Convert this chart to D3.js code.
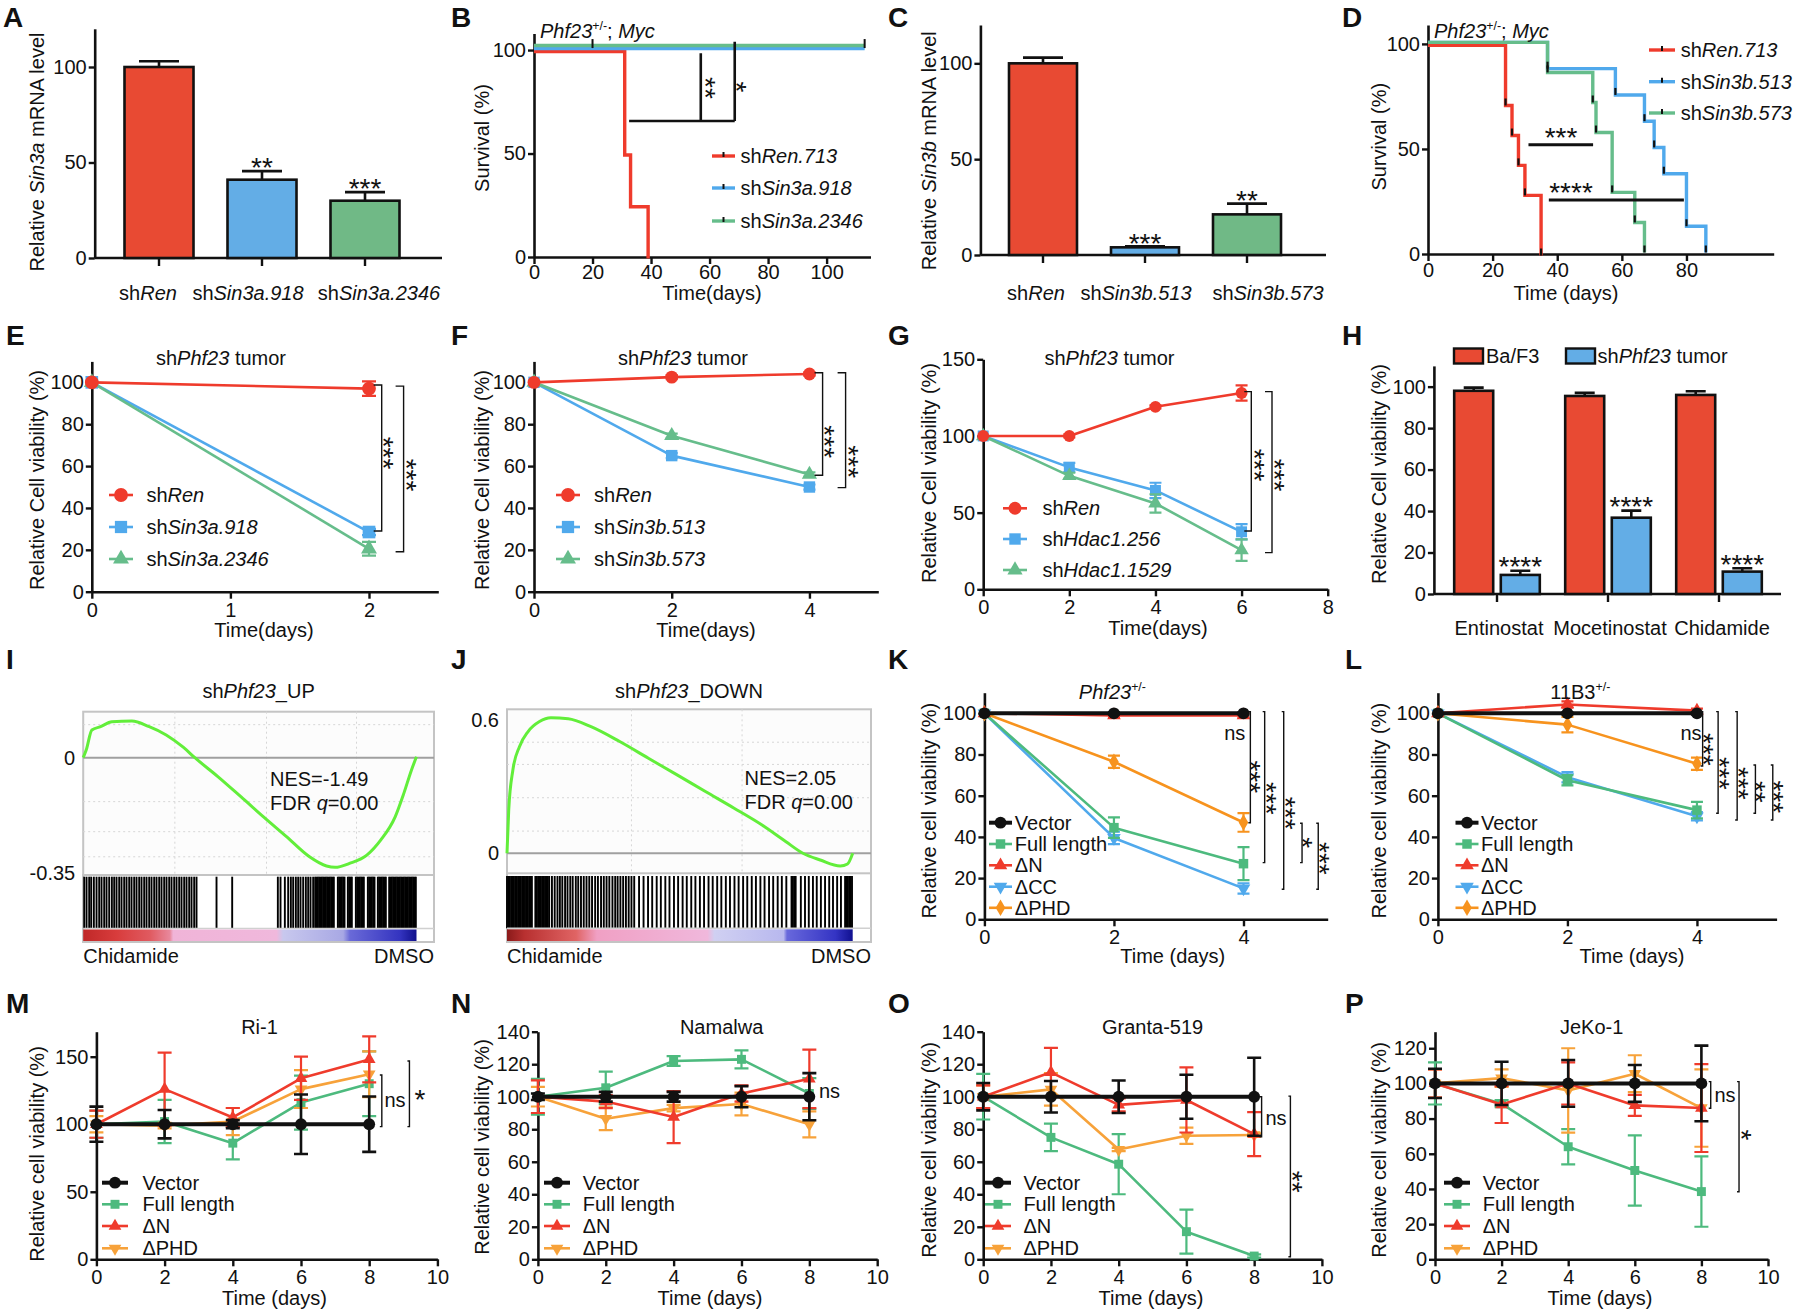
<!DOCTYPE html>
<html><head><meta charset="utf-8">
<script src="https://cdn.jsdelivr.net/npm/d3@7/dist/d3.min.js"></script>
<style>
html,body{margin:0;padding:0;background:#fff;overflow:hidden}
svg text{font-family:"Liberation Sans",Arial,Helvetica,sans-serif}
</style></head><body><script>
// ======================= DATA =======================
// A
const A_cats=['shRen','shSin3a.918','shSin3a.2346'];
const A_ticklabels=['sh<i>Ren</i>','sh<i>Sin3a.918</i>','sh<i>Sin3a.2346</i>'];
const A_values=[100,41,30];
const A_errors=[3,4.5,4.5];
const A_sig=['','**','***'];
const A_yticks=[0,50,100];
// B
const B_names=['sh<i>Ren.713</i>','sh<i>Sin3a.918</i>','sh<i>Sin3a.2346</i>'];
const B_ren_time=[0,31,33,39];
const B_ren_surv=[100,50,25,0];
const B_918_time=[0,113];
const B_918_surv=[100,100];
const B_2346_time=[0,113];
const B_2346_surv=[100,100];
const B_2346_censored=[20,113];
const B_sig=['**','*'];
const B_xticks=[0,20,40,60,80,100];
const B_yticks=[0,50,100];
// C
const C_cats=['shRen','shSin3b.513','shSin3b.573'];
const C_ticklabels=['sh<i>Ren</i>','sh<i>Sin3b.513</i>','sh<i>Sin3b.573</i>'];
const C_values=[100,4,21.2];
const C_errors=[3,0.5,5.6];
const C_sig=['','***','**'];
const C_yticks=[0,50,100];
// D
const D_names=['sh<i>Ren.713</i>','sh<i>Sin3b.513</i>','sh<i>Sin3b.573</i>'];
const D_ren_time=[0,24,26,28,30,35];
const D_ren_surv=[100,71.4,57.1,42.9,28.6,0];
const D_513_time=[0,37,58,67,70,73,80,86];
const D_513_surv=[100,87.5,75,62.5,50,37.5,12.5,0];
const D_573_time=[0,37,51,52,57,64,67];
const D_573_surv=[100,85.7,71.4,57.1,28.6,14.3,0];
const D_sig=['***','****'];
const D_xticks=[0,20,40,60,80];
const D_yticks=[0,50,100];
// E
const E_days=[0,2];
const E_names=['sh<i>Ren</i>','sh<i>Sin3a.918</i>','sh<i>Sin3a.2346</i>'];
const E_shRen=[100,97], E_shRen_err=[0,3.5];
const E_918=[100,28.5], E_918_err=[0,1.5];
const E_2346=[100,20.5], E_2346_err=[0,3.3];
const E_sig=['***','***'];
const E_xticks=[0,1,2];
const CV_yticks=[0,20,40,60,80,100];
// F
const F_days=[0,2,4];
const F_names=['sh<i>Ren</i>','sh<i>Sin3b.513</i>','sh<i>Sin3b.573</i>'];
const F_shRen=[100,102.5,104], F_shRen_err=[0,1,0.8];
const F_513=[100,65,50], F_513_err=[0,1.2,1.2];
const F_573=[100,74.5,56], F_573_err=[0,1,1];
const F_sig=['***','***'];
const F_xticks=[0,2,4];
// G
const G_days=[0,2,4,6];
const G_names=['sh<i>Ren</i>','sh<i>Hdac1.256</i>','sh<i>Hdac1.1529</i>'];
const G_shRen=[100,100,119,128], G_shRen_err=[0,1,1,5];
const G_256=[100,79.5,64.5,37.5], G_256_err=[0,3,5,5];
const G_1529=[100,74,56,25.5], G_1529_err=[0,2,6,7];
const G_sig=['***','***'];
const G_xticks=[0,2,4,6,8];
const G_yticks=[0,50,100,150];
// H
const H_drugs=['Entinostat','Mocetinostat','Chidamide'];
const H_groups=['Ba/F3','sh<i>Phf23</i> tumor'];
const H_baf3=[98,95.5,96], H_baf3_err=[1.5,1.5,1.8];
const H_tumor=[9.2,36.8,10.8], H_tumor_err=[2,3.4,1.6];
const H_sig=['****','****','****'];
const H_yticks=[0,20,40,60,80,100];
// I  (GSEA shPhf23_UP)
const I_rank=[0,0.9,2.6,5.2,8.6,14.6,19.8,24.9,30.1,33.5,40.4,47.3,54.1,61.0,67.9,73.0,75.6,79.9,85.1,89.3,93.6,96.2,98.5,100];
const I_es=[0,0.023,0.084,0.094,0.109,0.111,0.094,0.069,0.031,0,-0.057,-0.118,-0.179,-0.239,-0.300,-0.328,-0.332,-0.320,-0.295,-0.249,-0.179,-0.108,-0.037,0.003];
const I_hits=[0.3,1,1.8,2.4,3.2,4,4.8,5.5,6.3,7,7.8,8.6,9.3,10,10.8,11.5,12.3,13,13.8,14.5,15.3,16,16.8,17.5,18.3,19,19.8,20.5,21.3,22,22.8,23.5,24.3,25,25.8,26.5,27.3,28,28.8,29.5,30.3,31,31.8,32.5,33.3,34,
  40,44.7,58.4,59.2,60.5,61.5,62.3,63,63.8,64.5,65.2,66,66.8,67.5,68.2,69,69.6,
  70,70.4,70.8,71.2,71.6,72,72.4,72.8,73.2,73.6,74,74.4,74.8,75.2,76.4,76.8,77.2,77.6,78,78.4,79.4,79.8,80.2,80.6,81.8,82.2,82.6,83,83.4,83.8,84.2,85.4,85.8,86.2,86.6,87,87.4,88.4,88.8,89.2,89.6,90,90.4,90.8,91.8,92.2,92.6,93,93.4,93.8,94.2,94.6,95,95.4,95.8,96.2,96.6,97,97.4,97.8,98.2,98.6,99,99.4,99.8];
const I_ticks=[0,-0.35];
const I_stats=['NES=-1.49','FDR <i>q</i>=0.00'];
// J  (GSEA shPhf23_DOWN)
const J_rank=[0,0.5,1.7,3.6,6.1,9.4,12.7,17.7,24.3,32.6,40.9,49.2,57.4,65.7,74.0,80.6,85.6,90.6,96.4,98.5,100];
const J_es=[0,0.195,0.375,0.48,0.548,0.593,0.61,0.606,0.57,0.503,0.428,0.353,0.278,0.203,0.125,0.053,0,-0.03,-0.057,-0.048,0];
const J_hits=[0,0.4,0.8,1.2,1.6,2,2.4,2.8,3.2,3.6,4,4.4,4.8,5.2,5.6,6,6.4,6.8,7.2,8.2,8.6,9,9.4,9.8,10.2,10.6,11,11.4,11.8,12.2,
  13,13.8,14.6,15.3,16,16.8,17.5,18.3,19,19.9,20.6,21.4,22.2,23,23.8,24.6,25.5,26.3,27.2,28,28.8,29.6,30.5,31.3,32,32.8,33.6,34.4,35.2,36,36.8,
  38.2,39.5,40.8,42,43.3,44.5,45.8,47,48.3,49.5,50.8,52,53.3,54.5,55.8,57,58.3,59.5,60.8,62,63.3,64.5,65.8,67,68.3,69.5,70.8,72,73.3,74.5,75.8,77,78.3,79.5,80.8,82.3,82.7,83.1,83.5,85,86.2,87.3,88.5,89.6,90.8,92,93.2,94.3,95.5,96.6,97.8,98.2,98.6,99,99.4,99.8];
const J_ticks=[0.6,0];
const J_stats=['NES=2.05','FDR <i>q</i>=0.00'];
// K
const KL_names=['Vector','Full length','ΔN','ΔCC','ΔPHD'];
const K_days=[0,2,4];
const K_vector=[100,100,100], K_vector_err=[0,0.6,0.6];
const K_full=[100,44.5,27], K_full_err=[0,5,8];
const K_dN=[100,99,99], K_dN_err=[0,1,1];
const K_dCC=[100,39.5,15], K_dCC_err=[0,3,2.5];
const K_dPHD=[100,76.5,47], K_dPHD_err=[0,3,4.5];
const K_sig=['ns','***','***','***','*','***'];
const KL_xticks=[0,2,4];
// L
const L_days=[0,2,4];
const L_vector=[100,100,100], L_vector_err=[0,0.6,0.6];
const L_full=[100,67.5,53], L_full_err=[0,2.5,4];
const L_dN=[100,104.3,101.3], L_dN_err=[0,1.5,1];
const L_dCC=[100,69,50], L_dCC_err=[0,2.5,2];
const L_dPHD=[100,94.5,75.5], L_dPHD_err=[0,3.8,3];
const L_sig=['ns','***','***','***','**','***'];
// M-P
const MP_names=['Vector','Full length','ΔN','ΔPHD'];
const MP_days=[0,2,4,6,8];
const MP_xticks=[0,2,4,6,8,10];
const M_vector=[100,100,100,100,100], M_vector_err=[13,10.5,3,22,20.5];
const M_full=[100,102,86,116,130], M_full_err=[10,16,12,20,24];
const M_dN=[100,126,105,134,148], M_dN_err=[10,27,7,16,17];
const M_dPHD=[100,99,102,126,137], M_dPHD_err=[6,2,10,14,17];
const M_sig=['ns','*'];
const M_yticks=[0,50,100,150];
const N_vector=[100,100,100,100,100], N_vector_err=[2,3,3,6.5,14.5];
const N_full=[100,105.5,122,123,102], N_full_err=[11,10,3,5.5,9.5];
const N_dN=[100,97,87.5,102,111], N_dN_err=[10,4,16,5,18];
const N_dPHD=[100,86.5,93,95.5,83], N_dPHD_err=[6,7,2,7,8];
const N_sig=['ns'];
const NO_yticks=[0,20,40,60,80,100,120,140];
const O_vector=[100,100,100,100,100], O_vector_err=[8.4,9.7,10,13.5,24];
const O_full=[100,75,58.5,17,2], O_full_err=[14,8.5,18.5,13.5,1];
const O_dN=[100,115,95,98,77], O_dN_err=[7,15,4,20,13.5];
const O_dPHD=[100,104.5,67.5,76,76.5], O_dPHD_err=[7,10,1,5,1];
const O_sig=['ns','**'];
const P_vector=[100,100,100,100,100], P_vector_err=[8.3,12.3,13.3,10.5,21.5];
const P_full=[100,88.5,64,50.5,38.5], P_full_err=[12,2,10,20,20];
const P_dN=[100,88,100,87.5,86], P_dN_err=[8,10.5,12,6,25];
const P_dPHD=[100,103,96,105.5,86], P_dPHD_err=[8,5,24,10.5,22];
const P_sig=['ns','*'];
const P_yticks=[0,20,40,60,80,100,120];

// ======================= DRAWING =======================
const svg=d3.select('body').append('svg').attr('width',1800).attr('height',1314);
svg.append('rect').attr('width',1800).attr('height',1314).attr('fill','#fff');
const FS=20, INK='#111';
const RED='#EF3B2C', BLUE='#50A9EC', GREEN='#66BD8B', GREEN2='#4DBA7E', ORANGE='#F7931E', ORANGE2='#F7A23A';
const BAR_RED='#E84A33', BAR_BLUE='#63ADE6', BAR_GREEN='#70B986';

function rich(t,s,fs){
  const parts=s.split(/(<\/?i>|<\/?sup>)/).filter(p=>p!=='');
  let it=false,sup=false,down=false;
  parts.forEach(p=>{
    if(p==='<i>'){it=true;return;} if(p==='</i>'){it=false;return;}
    if(p==='<sup>'){sup=true;return;} if(p==='</sup>'){sup=false;down=true;return;}
    const ts=t.append('tspan').text(p);
    if(it) ts.attr('font-style','italic');
    if(sup) ts.attr('font-size',fs*0.62).attr('dy',-fs*0.42);
    else if(down){ts.attr('dy',fs*0.42);down=false;}
  });
  return t;
}
function label(x,y,s,o={}){
  const fs=o.fs||FS;
  const t=svg.append('text').attr('x',x).attr('y',y).attr('font-size',fs)
    .attr('text-anchor',o.anchor||'start').attr('fill',o.fill||INK);
  if(o.weight) t.attr('font-weight',o.weight);
  return rich(t,s,fs);
}
function ylab(cx,cy,s,fs){
  fs=fs||FS;
  const t=svg.append('text').attr('transform',`translate(${cx},${cy}) rotate(-90)`)
    .attr('x',0).attr('y',0.35*fs).attr('font-size',fs).attr('text-anchor','middle').attr('fill',INK);
  rich(t,s,fs);
}
function star(cx,cy,s,fs){ fs=fs||28;
  svg.append('text').attr('x',cx).attr('y',cy+0.58*fs).attr('font-size',fs).attr('text-anchor','middle').attr('fill',INK).text(s);
}
function vstar(cx,cy,s,fs){ fs=fs||28;
  svg.append('text').attr('transform',`translate(${cx},${cy}) rotate(90)`)
   .attr('x',0).attr('y',0.58*fs).attr('font-size',fs).attr('text-anchor','middle').attr('fill',INK).text(s);
}
function axisStyle(a){
  a.attr('font-size',FS).attr('font-family',null);
  a.select('.domain').attr('stroke',INK).attr('stroke-width',2.6);
  a.selectAll('.tick line').attr('stroke',INK).attr('stroke-width',2.4);
  a.selectAll('.tick text').attr('fill',INK);
}
function yAxis(g,ys,x,ticks,fmt){
  const a=g.append('g').attr('transform',`translate(${x},0)`)
    .call(d3.axisLeft(ys).tickValues(ticks).tickSize(6).tickPadding(2).tickSizeOuter(0).tickFormat(fmt||d3.format('d')));
  axisStyle(a); return a;
}
function xAxis(g,xs,y,ticks,pad){
  const a=g.append('g').attr('transform',`translate(0,${y})`)
    .call(d3.axisBottom(xs).tickValues(ticks).tickSize(7).tickPadding(pad==null?4:pad).tickSizeOuter(0).tickFormat(d3.format('d')));
  axisStyle(a); return a;
}
const SYM={circle:d3.symbolCircle,square:d3.symbolSquare,tri:d3.symbolTriangle,tridown:d3.symbolTriangle,diamond:d3.symbolDiamond};
function sym(g,x,y,type,color,size){
  g.append('path').attr('d',d3.symbol(SYM[type],size)())
   .attr('transform',`translate(${x},${y})${type==='tridown'?' rotate(180)':''}`).attr('fill',color);
}
function linePanel(p){
  const g=svg.append('g');
  yAxis(g,p.ys,p.xs(0),p.yticks);
  xAxis(g,p.xs,p.ys(0),p.xticks);
  p.series.forEach(s=>{
    const pts=s.x.map((d,i)=>[p.xs(d),p.ys(s.y[i])]);
    g.append('path').attr('d',d3.line()(pts)).attr('fill','none').attr('stroke',s.color)
      .attr('stroke-width',s.w||2.6).attr('stroke-linejoin','round');
    s.x.forEach((d,i)=>{
      const e=s.err?s.err[i]:0;
      if(e>0){
        const cx=p.xs(d),ya=p.ys(s.y[i]-e),yb=p.ys(s.y[i]+e),c=p.cap||6;
        g.append('path').attr('d',`M${cx},${ya}V${yb}M${cx-c},${ya}H${cx+c}M${cx-c},${yb}H${cx+c}`)
          .attr('stroke',s.color).attr('stroke-width',s.ew||2.2).attr('fill','none');
      }
    });
    s.x.forEach((d,i)=>sym(g,p.xs(d),p.ys(s.y[i]),s.sym,s.color,s.size));
  });
  return g;
}
function legendV(items,mx,half,tx,ycs){
  items.forEach((it,i)=>{
    const y=ycs[i];
    svg.append('line').attr('x1',mx-half).attr('x2',mx+half).attr('y1',y).attr('y2',y)
      .attr('stroke',it.color).attr('stroke-width',it.w||2.6);
    if(it.sym) sym(svg,mx,y,it.sym,it.color,it.size);
    if(it.tick) svg.append('line').attr('x1',mx).attr('x2',mx).attr('y1',y-4).attr('y2',y+1).attr('stroke',INK).attr('stroke-width',2);
    label(tx,y+0.35*FS,it.label);
  });
}
function vbracket(x,y1,y2,cap,w){
  svg.append('path').attr('d',`M${x-cap},${y1}H${x}V${y2}H${x-cap}`).attr('fill','none').attr('stroke',INK).attr('stroke-width',w||1.4);
}
function barChart(p){
  const g=svg.append('g');
  yAxis(g,p.ys,p.x0,p.yticks);
  g.append('line').attr('x1',p.x0).attr('x2',p.x1).attr('y1',p.ys(0)).attr('y2',p.ys(0)).attr('stroke',INK).attr('stroke-width',2.6);
  p.cats.forEach((c,i)=>{
    const cx=p.xs(c), v=p.vals[i], e=p.err[i];
    g.append('line').attr('x1',cx).attr('x2',cx).attr('y1',p.ys(0)).attr('y2',p.ys(0)+8).attr('stroke',INK).attr('stroke-width',2.4);
    g.append('path').attr('d',`M${cx},${p.ys(v)}V${p.ys(v+e)}M${cx-p.cap},${p.ys(v+e)}H${cx+p.cap}`).attr('stroke',INK).attr('stroke-width',2.6);
    g.append('rect').attr('x',cx-p.bw/2).attr('y',p.ys(v)).attr('width',p.bw).attr('height',p.ys(0)-p.ys(v))
      .attr('fill',p.colors[i]).attr('stroke',INK).attr('stroke-width',2.6);
    if(p.sig[i]) star(cx,p.ys(v+e)-10,p.sig[i],28);
    label(cx+p.labelDx[i],p.labelY,p.labels[i],{anchor:'middle'});
  });
}

// ---------- panel letters ----------
[['A',3,27],['B',451,27],['C',888,27],['D',1342,27],['E',6,345],['F',451,345],['G',888,345],['H',1342,345],
 ['I',6,669],['J',451,669],['K',888,669],['L',1345,669],['M',6,1013],['N',451,1013],['O',888,1013],['P',1345,1013]]
 .forEach(d=>label(d[1],d[2],d[0],{fs:28,weight:'bold'}));

// ---------- A ----------
{
  const ys=d3.scaleLinear().domain([0,120]).range([258,28.8]);
  const xs=d3.scalePoint().domain(A_cats).range([159,365]);
  barChart({ys,xs,x0:94.7,x1:442,yticks:A_yticks,cats:A_cats,vals:A_values,err:A_errors,sig:A_sig,
    colors:[BAR_RED,BAR_BLUE,BAR_GREEN],bw:69,cap:20,labels:A_ticklabels,labelY:300,labelDx:[-11,-14,14]});
  ylab(37,152,'Relative <i>Sin3a</i> mRNA level');
}
// ---------- B ----------
{
  const xs=d3.scaleLinear().domain([0,115]).range([534,870.5]);
  const ys=d3.scaleLinear().domain([0,108]).range([257,33.5]);
  const g=svg.append('g');
  yAxis(g,ys,534,B_yticks); xAxis(g,xs,257,B_xticks,1);
  const km=(t,s,c,dy)=>g.append('path').attr('d',d3.line().curve(d3.curveStepAfter)(t.map((d,i)=>[xs(d),ys(s[i])+dy])))
    .attr('fill','none').attr('stroke',c).attr('stroke-width',3.4);
  km(B_ren_time,B_ren_surv,RED,1.5);
  km(B_918_time,B_918_surv,BLUE,-1.5);
  km(B_2346_time,B_2346_surv,GREEN,-4.5);
  B_2346_censored.forEach(t=>g.append('line').attr('x1',xs(t)).attr('x2',xs(t)).attr('y1',ys(100)-11).attr('y2',ys(100)-2).attr('stroke',INK).attr('stroke-width',2));
  g.append('path').attr('d',`M${xs(32.5)},${ys(65.7)}H${xs(68.6)}M${xs(57)},${ys(65.7)}V${ys(98.5)}M${xs(68.6)},${ys(65.7)}V${ys(104)}`)
   .attr('stroke',INK).attr('stroke-width',2.6).attr('fill','none');
  vstar(xs(57)+11,88,B_sig[0]); vstar(xs(68.6)+9,87,B_sig[1]);
  label(540,38,'<i>Phf23</i><sup>+/-</sup>; <i>Myc</i>');
  legendV(B_names.map((n,i)=>({label:n,color:[RED,BLUE,GREEN][i],tick:true,w:3.4})),723.5,11.5,740.5,[156,188,221]);
  ylab(482,138,'Survival (%)');
  label(712,300,'Time(days)',{anchor:'middle'});
}
// ---------- C ----------
{
  const ys=d3.scaleLinear().domain([0,120]).range([255,25]);
  const xs=d3.scalePoint().domain(C_cats).range([1043,1247]);
  barChart({ys,xs,x0:980.4,x1:1326,yticks:C_yticks,cats:C_cats,vals:C_values,err:C_errors,sig:C_sig,
    colors:[BAR_RED,BAR_BLUE,BAR_GREEN],bw:68,cap:20,labels:C_ticklabels,labelY:300,labelDx:[-7,-9,21]});
  ylab(928.7,150.7,'Relative <i>Sin3b</i> mRNA level');
}
// ---------- D ----------
{
  const xs=d3.scaleLinear().domain([0,107]).range([1428,1773.7]);
  const ys=d3.scaleLinear().domain([0,109]).range([254,25]);
  const g=svg.append('g');
  yAxis(g,ys,1428,D_yticks); xAxis(g,xs,254,D_xticks,2);
  const km=(t,s,c,dy)=>{
    g.append('path').attr('d',d3.line().curve(d3.curveStepAfter)(t.map((d,i)=>[xs(d),ys(s[i])+dy])))
      .attr('fill','none').attr('stroke',c).attr('stroke-width',3.4);
  };
  const ticks=(t,s,dy)=>t.forEach((d,i)=>{ if(i>0) g.append('line').attr('x1',xs(d)).attr('x2',xs(d)).attr('y1',ys(s[i])+dy-7).attr('y2',ys(s[i])+dy).attr('stroke',INK).attr('stroke-width',2.2);});
  km(D_ren_time,D_ren_surv,RED,1.5);
  km(D_513_time,D_513_surv,BLUE,-1.5);
  km(D_573_time,D_573_surv,GREEN,-1.5);
  ticks(D_ren_time,D_ren_surv,1.5); ticks(D_513_time,D_513_surv,-1.5); ticks(D_573_time,D_573_surv,-1.5);
  g.append('path').attr('d',`M${xs(31.1)},${ys(52)}H${xs(51.1)}M${xs(37.4)},${ys(25.7)}H${xs(79.2)}`).attr('stroke',INK).attr('stroke-width',3);
  star(1561,131,D_sig[0]); star(1571,186,D_sig[1]);
  label(1434,38,'<i>Phf23</i><sup>+/-</sup>; <i>Myc</i>');
  legendV(D_names.map((n,i)=>({label:n,color:[RED,BLUE,GREEN][i],tick:true,w:3.4})),1662,13,1680.7,[50,81.7,113]);
  ylab(1379,136.7,'Survival (%)');
  label(1566,300,'Time (days)',{anchor:'middle'});
}
// ---------- E ----------
{
  const xs=d3.scaleLinear().domain([0,2.5]).range([91.8,438.3]);
  const ys=d3.scaleLinear().domain([0,110]).range([591.7,361.4]);
  linePanel({xs,ys,xticks:E_xticks,yticks:CV_yticks,cap:7,series:[
    {x:E_days,y:E_918,err:E_918_err,color:BLUE,sym:'square',size:160},
    {x:E_days,y:E_2346,err:E_2346_err,color:GREEN,sym:'tri',size:110},
    {x:E_days,y:E_shRen,err:E_shRen_err,color:RED,sym:'circle',size:150}]});
  vbracket(381.7,ys(98.7),ys(29),8); vbracket(403.6,ys(98.2),ys(19.1),8);
  vstar(390.3,453,E_sig[0]); vstar(413.3,475,E_sig[1]);
  label(221,365,'sh<i>Phf23</i> tumor',{anchor:'middle'});
  legendV([{label:E_names[0],color:RED,sym:'circle',size:150},{label:E_names[1],color:BLUE,sym:'square',size:150},{label:E_names[2],color:GREEN,sym:'tri',size:110}],
    121,12,146.4,[495,527,559]);
  ylab(37.3,480,'Relative Cell viability (%)');
  label(264,637,'Time(days)',{anchor:'middle'});
}
// ---------- F ----------
{
  const xs=d3.scaleLinear().domain([0,5]).range([534,878.3]);
  const ys=d3.scaleLinear().domain([0,110]).range([591.7,361.4]);
  linePanel({xs,ys,xticks:F_xticks,yticks:CV_yticks,cap:6,series:[
    {x:F_days,y:F_513,err:F_513_err,color:BLUE,sym:'square',size:130},
    {x:F_days,y:F_573,err:F_573_err,color:GREEN,sym:'tri',size:100},
    {x:F_days,y:F_shRen,err:F_shRen_err,color:RED,sym:'circle',size:130}]});
  vbracket(822.6,ys(104.6),ys(55.6),8); vbracket(845.6,ys(104.6),ys(49.7),8);
  vstar(831,441.7,F_sig[0]); vstar(855,461.7,F_sig[1]);
  label(683,365,'sh<i>Phf23</i> tumor',{anchor:'middle'});
  legendV([{label:F_names[0],color:RED,sym:'circle',size:150},{label:F_names[1],color:BLUE,sym:'square',size:150},{label:F_names[2],color:GREEN,sym:'tri',size:110}],
    568,12,594,[495,527,559]);
  ylab(482,480,'Relative Cell viability (%)');
  label(706,637,'Time(days)',{anchor:'middle'});
}
// ---------- G ----------
{
  const xs=d3.scaleLinear().domain([0,8]).range([983.2,1327.7]);
  const ys=d3.scaleLinear().domain([0,150]).range([589.3,359.3]);
  linePanel({xs,ys,xticks:G_xticks,yticks:G_yticks,cap:6,series:[
    {x:G_days,y:G_256,err:G_256_err,color:BLUE,sym:'square',size:120},
    {x:G_days,y:G_1529,err:G_1529_err,color:GREEN,sym:'tri',size:90},
    {x:G_days,y:G_shRen,err:G_shRen_err,color:RED,sym:'circle',size:110}]});
  vbracket(1251.3,ys(128.9),ys(38),7); vbracket(1272,ys(128.9),ys(23.9),7);
  vstar(1261.7,465,G_sig[0]); vstar(1281.7,475,G_sig[1]);
  label(1109.5,365,'sh<i>Phf23</i> tumor',{anchor:'middle'});
  legendV([{label:G_names[0],color:RED,sym:'circle',size:130},{label:G_names[1],color:BLUE,sym:'square',size:130},{label:G_names[2],color:GREEN,sym:'tri',size:100}],
    1015,12,1042.4,[508.3,539,570]);
  ylab(928.7,473,'Relative Cell viability (%)');
  label(1158,635,'Time(days)',{anchor:'middle'});
}
// ---------- H ----------
{
  const ys=d3.scaleLinear().domain([0,110]).range([594,365.9]);
  const xs=d3.scalePoint().domain(H_drugs).range([1497,1719]);
  const g=svg.append('g');
  yAxis(g,ys,1433.9,H_yticks);
  g.append('line').attr('x1',1433.9).attr('x2',1781).attr('y1',ys(0)).attr('y2',ys(0)).attr('stroke',INK).attr('stroke-width',2.6);
  const bw=39, off=23.3;
  H_drugs.forEach((d,i)=>{
    const c=xs(d);
    g.append('line').attr('x1',c).attr('x2',c).attr('y1',ys(0)).attr('y2',ys(0)+8).attr('stroke',INK).attr('stroke-width',2.4);
    [[H_baf3[i],H_baf3_err[i],BAR_RED,c-off],[H_tumor[i],H_tumor_err[i],BAR_BLUE,c+off]].forEach(b=>{
      g.append('path').attr('d',`M${b[3]},${ys(b[0])}V${ys(b[0]+b[1])}M${b[3]-10},${ys(b[0]+b[1])}H${b[3]+10}`).attr('stroke',INK).attr('stroke-width',2.6);
      g.append('rect').attr('x',b[3]-bw/2).attr('y',ys(b[0])).attr('width',bw).attr('height',ys(0)-ys(b[0]))
        .attr('fill',b[2]).attr('stroke',INK).attr('stroke-width',2.6);
    });
    star(c+off,ys(H_tumor[i]+H_tumor_err[i])-11,H_sig[i]);
    label(c+(i===2?3:2),635,d,{anchor:'middle'});
  });
  [[1454,BAR_RED,H_groups[0],1486],[1566,BAR_BLUE,H_groups[1],1597.5]].forEach(l=>{
    g.append('rect').attr('x',l[0]).attr('y',348.5).attr('width',29).attr('height',15).attr('fill',l[1]).attr('stroke',INK).attr('stroke-width',2.4);
    label(l[3],363,l[2]);
  });
  ylab(1379,474,'Relative Cell viability (%)');
}
// ---------- GSEA I / J ----------
function gsea(p){
  const g=svg.append('g');
  const xs=d3.scaleLinear().domain([0,100]).range([p.left,p.cr]);
  const ys=p.ys;
  g.append('rect').attr('x',p.left).attr('y',p.top).attr('width',p.right-p.left).attr('height',p.cbB-p.top)
    .attr('fill','#fcfcfc').attr('stroke','#c4c4c4').attr('stroke-width',2);
  p.gy.forEach(v=>g.append('line').attr('x1',p.left).attr('x2',p.right).attr('y1',ys(v)).attr('y2',ys(v)).attr('stroke','#d6d6d6').attr('stroke-width',1).attr('stroke-dasharray','2,3'));
  p.gx.forEach(v=>g.append('line').attr('x1',xs(v)).attr('x2',xs(v)).attr('y1',p.top).attr('y2',p.esB).attr('stroke','#d6d6d6').attr('stroke-width',1).attr('stroke-dasharray','2,3'));
  g.append('line').attr('x1',p.left).attr('x2',p.right).attr('y1',ys(0)).attr('y2',ys(0)).attr('stroke','#a0a0a0').attr('stroke-width',2);
  g.append('rect').attr('x',p.left).attr('y',p.esB).attr('width',p.right-p.left).attr('height',p.cbB-p.esB).attr('fill','#fff').attr('stroke','#c4c4c4').attr('stroke-width',2);
  p.hits.forEach(h=>g.append('line').attr('x1',xs(h)).attr('x2',xs(h)).attr('y1',p.hitT).attr('y2',p.hitB).attr('stroke','#000').attr('stroke-width',1.9));
  g.append('line').attr('x1',p.left).attr('x2',p.right).attr('y1',p.hitB).attr('y2',p.hitB).attr('stroke','#d0d0d0').attr('stroke-width',1.5);
  const grad=svg.append('defs').append('linearGradient').attr('id',p.id);
  p.stops.forEach(s=>grad.append('stop').attr('offset',s[0]).attr('stop-color',s[1]));
  g.append('rect').attr('x',p.left).attr('y',p.hitB+1).attr('width',p.cr-p.left).attr('height',p.cbB-p.hitB-2).attr('fill',`url(#${p.id})`);
  g.append('path').attr('d',d3.line().curve(d3.curveMonotoneX)(p.rank.map((r,i)=>[xs(r),ys(p.es[i])])))
    .attr('fill','none').attr('stroke','#62EE3A').attr('stroke-width',3);
  p.ticks.forEach(t=>label(p.left-8,ys(t)+7,String(t),{anchor:'end'}));
  label(p.statX,p.statY[0],p.stats[0]); label(p.statX,p.statY[1],p.stats[1]);
  label((p.left+p.right)/2,p.titleY,p.title,{anchor:'middle'});
  label(p.left,p.cbB+21,'Chidamide'); label(p.right,p.cbB+21,'DMSO',{anchor:'end'});
}
gsea({id:'gI',left:83.2,right:434,cr:416.5,top:711.7,esB:875,hitT:876.7,hitB:928.5,cbB:942,
  ys:d3.scaleLinear().domain([-0.35,0]).range([873.3,757.7]),rank:I_rank,es:I_es,hits:I_hits,ticks:I_ticks,
  gy:[0.1,-0.133,-0.224,-0.3],gx:[27.5,55,82],stats:I_stats,statX:270,statY:[786,810],title:'sh<i>Phf23</i>_UP',titleY:698,
  stops:[[0,'#c02828'],[0.1,'#d83c3c'],[0.2,'#e05a60'],[0.26,'#e8889c'],[0.27,'#f0b4d8'],[0.58,'#f0b8dc'],[0.6,'#c8c8ee'],[0.78,'#a8a8e4'],[0.8,'#6a6ad8'],[0.95,'#3434c0'],[1,'#10108c']]});
gsea({id:'gJ',left:507,right:871,cr:852.7,top:709.3,esB:873.3,hitT:876,hitB:928.3,cbB:942,
  ys:d3.scaleLinear().domain([0,0.6]).range([853.3,720]),rank:J_rank,es:J_es,hits:J_hits,ticks:J_ticks,
  gy:[0.1,0.25,0.4,0.5],gx:[36,68],stats:J_stats,statX:744.5,statY:[785,809],title:'sh<i>Phf23</i>_DOWN',titleY:698,
  stops:[[0,'#8a1a1a'],[0.05,'#b83030'],[0.2,'#e06464'],[0.26,'#f0a0c4'],[0.58,'#f0b8dc'],[0.6,'#d0d0f2'],[0.8,'#b8b8ee'],[0.81,'#6868dc'],[0.95,'#3434c4'],[1,'#101090']]});

// ---------- K / L ----------
function klPanel(xs,ys,days,vec,vecE,full,fullE,dN,dNE,dCC,dCCE,dPHD,dPHDE){
  linePanel({xs,ys,xticks:KL_xticks,yticks:CV_yticks,cap:6,series:[
    {x:days,y:dCC,err:dCCE,color:BLUE,sym:'tridown',size:80},
    {x:days,y:full,err:fullE,color:GREEN2,sym:'square',size:90},
    {x:days,y:dPHD,err:dPHDE,color:ORANGE,sym:'diamond',size:80},
    {x:days,y:dN,err:dNE,color:RED,sym:'tri',size:80},
    {x:days,y:vec,err:vecE,color:INK,sym:'circle',size:110,w:4}]});
}
const KL_leg=[{color:INK,sym:'circle',size:110,w:4},{color:GREEN2,sym:'square',size:90},{color:RED,sym:'tri',size:80},{color:BLUE,sym:'tridown',size:80},{color:ORANGE,sym:'diamond',size:80}];
const KL_legY=[822.7,844,865.3,886.7,907.8];
{
  const xs=d3.scaleLinear().domain([0,5.3]).range([984.4,1327.7]);
  const ys=d3.scaleLinear().domain([0,110]).range([919.3,692.7]);
  klPanel(xs,ys,K_days,K_vector,K_vector_err,K_full,K_full_err,K_dN,K_dN_err,K_dCC,K_dCC_err,K_dPHD,K_dPHD_err);
  label(1234.7,739.5,K_sig[0],{anchor:'middle'});
  const br=[[4.106,100.8,46.9,6.8,69.2],[4.327,100.8,27.5,8.5,58.7],[4.621,100.8,14.6,8.5,51.5],[4.904,46.6,27.5,7,37.2],[5.154,46.6,14.6,8,29.6]];
  br.forEach((b,i)=>{vbracket(xs(b[0]),ys(b[1]),ys(b[2]),2); vstar(xs(b[0])+b[3],ys(b[4]),K_sig[i+1]);});
  label(1112.4,699,'<i>Phf23</i><sup>+/-</sup>',{anchor:'middle'});
  legendV(KL_leg.map((d,i)=>Object.assign({label:KL_names[i]},d)),1000.5,11.5,1014.8,KL_legY);
  ylab(928.7,810.7,'Relative cell viability (%)');
  label(1172.7,963,'Time (days)',{anchor:'middle'});
}
{
  const xs=d3.scaleLinear().domain([0,5.23]).range([1437.9,1776.6]);
  const ys=d3.scaleLinear().domain([0,110]).range([919.3,692.7]);
  klPanel(xs,ys,L_days,L_vector,L_vector_err,L_full,L_full_err,L_dN,L_dN_err,L_dCC,L_dCC_err,L_dPHD,L_dPHD_err);
  label(1691,739.5,L_sig[0],{anchor:'middle'});
  const br=[[4.088,100.8,74.4,8,82.5],[4.327,100.8,51.5,8.6,70.9],[4.621,100.8,48.2,8,66],[4.903,74.9,51.5,6.7,61.9],[5.171,74.9,48.2,7.4,59.5]];
  br.forEach((b,i)=>{vbracket(xs(b[0]),ys(b[1]),ys(b[2]),2); vstar(xs(b[0])+b[3],ys(b[4]),L_sig[i+1]);});
  label(1580.3,699,'11B3<sup>+/-</sup>',{anchor:'middle'});
  legendV(KL_leg.map((d,i)=>Object.assign({label:KL_names[i]},d)),1467,11.5,1481,KL_legY);
  ylab(1379,810.7,'Relative cell viability (%)');
  label(1632,963,'Time (days)',{anchor:'middle'});
}
// ---------- M - P ----------
const MP_leg=[{color:INK,sym:'circle',size:110,w:4},{color:GREEN2,sym:'square',size:80},{color:RED,sym:'tri',size:70},{color:ORANGE2,sym:'tridown',size:70}];
const MP_legY=[1182.7,1204.3,1226,1248.3];
function mpPanel(xs,ys,yt,vec,vecE,full,fullE,dN,dNE,dPHD,dPHDE){
  linePanel({xs,ys,xticks:MP_xticks,yticks:yt,cap:7,series:[
    {x:MP_days,y:full,err:fullE,color:GREEN2,sym:'square',size:80},
    {x:MP_days,y:dPHD,err:dPHDE,color:ORANGE2,sym:'tridown',size:70},
    {x:MP_days,y:dN,err:dNE,color:RED,sym:'tri',size:70},
    {x:MP_days,y:vec,err:vecE,color:INK,sym:'circle',size:110,w:4,ew:2.6}]});
}
{
  const xs=d3.scaleLinear().domain([0,10]).range([96.4,437.4]);
  const ys=d3.scaleLinear().domain([0,168.5]).range([1259.3,1031.7]);
  mpPanel(xs,ys,M_yticks,M_vector,M_vector_err,M_full,M_full_err,M_dN,M_dN_err,M_dPHD,M_dPHD_err);
  vbracket(xs(8.37),ys(136.4),ys(98.2),2); label(395,1107,M_sig[0],{anchor:'middle'});
  vbracket(xs(9.18),ys(146.8),ys(98.2),2); star(420,1093,M_sig[1]);
  label(259.5,1034,'Ri-1',{anchor:'middle'});
  legendV(MP_leg.map((d,i)=>Object.assign({label:MP_names[i]},d)),115,13,142.4,MP_legY);
  ylab(37.3,1154,'Relative cell viability (%)');
  label(274.4,1305,'Time (days)',{anchor:'middle'});
}
{
  const xs=d3.scaleLinear().domain([0,10]).range([537.9,877.2]);
  const ys=d3.scaleLinear().domain([0,140]).range([1259.3,1031.7]);
  mpPanel(xs,ys,NO_yticks,N_vector,N_vector_err,N_full,N_full_err,N_dN,N_dN_err,N_dPHD,N_dPHD_err);
  label(829.5,1097.7,N_sig[0],{anchor:'middle'});
  label(721.6,1034,'Namalwa',{anchor:'middle'});
  legendV(MP_leg.map((d,i)=>Object.assign({label:MP_names[i]},d)),557,13,582.7,MP_legY);
  ylab(482,1147,'Relative cell viability (%)');
  label(710,1305,'Time (days)',{anchor:'middle'});
}
{
  const xs=d3.scaleLinear().domain([0,10]).range([983.2,1321.9]);
  const ys=d3.scaleLinear().domain([0,140]).range([1259.3,1031.7]);
  mpPanel(xs,ys,NO_yticks,O_vector,O_vector_err,O_full,O_full_err,O_dN,O_dN_err,O_dPHD,O_dPHD_err);
  vbracket(xs(8.22),ys(100),ys(75.4),2); label(1276,1125.3,O_sig[0],{anchor:'middle'});
  vbracket(xs(9.07),ys(100.4),ys(1.6),2); vstar(1299,1181.7,O_sig[1]);
  label(1152.6,1034,'Granta-519',{anchor:'middle'});
  legendV(MP_leg.map((d,i)=>Object.assign({label:MP_names[i]},d)),998,13,1023.4,MP_legY);
  ylab(928.7,1150,'Relative cell viability (%)');
  label(1151,1305,'Time (days)',{anchor:'middle'});
}
{
  const xs=d3.scaleLinear().domain([0,10]).range([1435,1768]);
  const ys=d3.scaleLinear().domain([0,129.4]).range([1259.3,1031.7]);
  mpPanel(xs,ys,P_yticks,P_vector,P_vector_err,P_full,P_full_err,P_dN,P_dN_err,P_dPHD,P_dPHD_err);
  vbracket(xs(8.28),ys(101),ys(85.9),2); label(1725,1102,P_sig[0],{anchor:'middle'});
  vbracket(xs(9.13),ys(101),ys(38.4),2); vstar(1748,1135,P_sig[1]);
  label(1591.7,1034,'JeKo-1',{anchor:'middle'});
  legendV(MP_leg.map((d,i)=>Object.assign({label:MP_names[i]},d)),1457,13,1482.7,MP_legY);
  ylab(1379,1150,'Relative cell viability (%)');
  label(1600,1305,'Time (days)',{anchor:'middle'});
}
</script></body></html>
